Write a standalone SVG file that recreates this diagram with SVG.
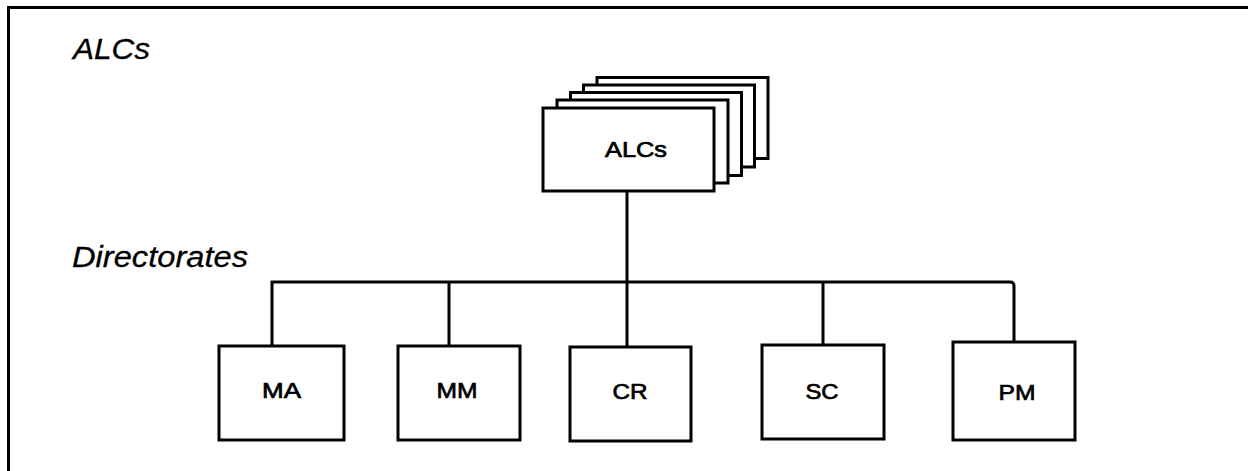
<svg xmlns="http://www.w3.org/2000/svg" width="1248" height="471" viewBox="0 0 1248 471">
<style>
.box{fill:#fff;stroke:#000;stroke-width:3}
.ln{fill:none;stroke:#000;stroke-width:3}
.lbl{font-family:"Liberation Sans",Arial,sans-serif;font-size:22px;fill:#000;stroke:#000;stroke-width:0.7;text-anchor:middle}
.ttl{font-family:"Liberation Sans",Arial,sans-serif;font-size:29px;font-style:italic;fill:#000;stroke:#000;stroke-width:0.3}
</style>
<rect width="1248" height="471" fill="#fff"/>
<g id="frame">
<path class="ln" d="M8.5,471 V7.5 H1248"/>
</g>
<text class="ttl" x="73" y="59" textLength="77" lengthAdjust="spacingAndGlyphs">ALCs</text>
<text class="ttl" x="72" y="267" font-size="28" textLength="176" lengthAdjust="spacingAndGlyphs">Directorates</text>
<g id="connectors">
<path class="ln" d="M627,191 V282"/>
<path class="ln" d="M272,346 V282 H1010 Q1014,282 1014,286 V342"/>
<path class="ln" d="M449,282 V346"/>
<path class="ln" d="M627,282 V347"/>
<path class="ln" d="M823,282 V345"/>
</g>
<g id="ALCs">
<rect class="box" x="597" y="77.5" width="171" height="81"/>
<rect class="box" x="583.5" y="85" width="171" height="82"/>
<rect class="box" x="570.5" y="92.5" width="171" height="83"/>
<rect class="box" x="557" y="100" width="171" height="83"/>
<rect class="box" x="543" y="108" width="171" height="83"/>
<text class="lbl" x="636" y="157" font-size="23" textLength="62" lengthAdjust="spacingAndGlyphs">ALCs</text>
</g>
<g id="MA">
<rect class="box" x="219" y="346" width="125" height="94"/>
<text class="lbl" x="281.5" y="398" textLength="39" lengthAdjust="spacingAndGlyphs">MA</text>
</g>
<g id="MM">
<rect class="box" x="398" y="346" width="122" height="94"/>
<text class="lbl" x="457" y="398" textLength="41" lengthAdjust="spacingAndGlyphs">MM</text>
</g>
<g id="CR">
<rect class="box" x="570" y="347" width="121" height="94"/>
<text class="lbl" x="630" y="399" textLength="35" lengthAdjust="spacingAndGlyphs">CR</text>
</g>
<g id="SC">
<rect class="box" x="762" y="345" width="122" height="94"/>
<text class="lbl" x="822" y="399" textLength="33" lengthAdjust="spacingAndGlyphs">SC</text>
</g>
<g id="PM">
<rect class="box" x="953" y="342" width="122" height="98"/>
<text class="lbl" x="1017" y="400" textLength="37" lengthAdjust="spacingAndGlyphs">PM</text>
</g>
</svg>
